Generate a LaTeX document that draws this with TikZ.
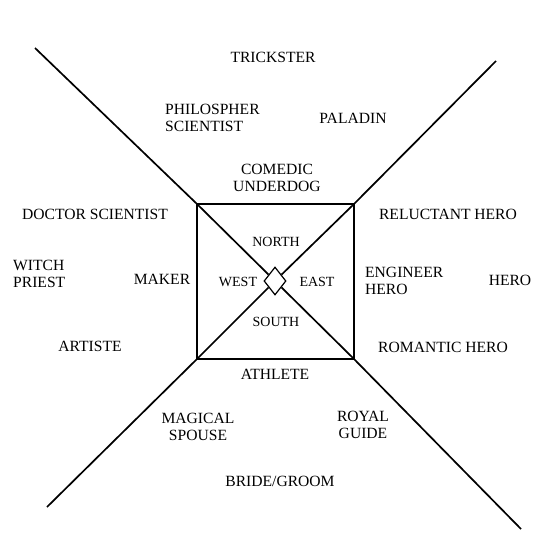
\documentclass[tikz,border=0pt]{standalone}
\usepackage{fontspec}
\setmainfont{Liberation Serif}
\usetikzlibrary{shapes.geometric}
\begin{document}
\begin{tikzpicture}[x=1pt,y=-1pt,
  lbl/.style={font=\fontsize{15.6}{17}\selectfont, inner sep=0pt, align=center},
  lbll/.style={lbl, align=left},
  inlbl/.style={font=\fontsize{14}{16}\selectfont, inner sep=0pt},
  diag/.style={line width=1.7pt},
  sq/.style={line width=1.3pt}]
\useasboundingbox (0,0) rectangle (560,560);
% square
\coordinate (nw) at (197,204);
\coordinate (ne) at (354,204);
\coordinate (se) at (354,359);
\coordinate (sw) at (197,359);
\draw[sq] (nw) -- (ne) -- (se) -- (sw) -- cycle;
% outer ends
\coordinate (tl) at (35,48);
\coordinate (tr) at (496,61);
\coordinate (bl) at (47,507);
\coordinate (br) at (521,529);
\node[diamond, draw, fill=white, line width=1.2pt, inner sep=0pt,
      minimum width=22pt, minimum height=28pt] (dia) at (275,281) {};
\draw[diag] (tl) -- (nw) -- (dia);
\draw[diag] (tr) -- (ne) -- (dia);
\draw[diag] (bl) -- (sw) -- (dia);
\draw[diag] (br) -- (se) -- (dia);
% inner labels
\node[inlbl] (north) at (276,242) {NORTH};
\node[inlbl] (south) at (276,322) {SOUTH};
\node[inlbl] (west) at (238,282) {WEST};
\node[inlbl] (east) at (317,282) {EAST};
% outer labels
\node[lbl] (trickster) at (273,57) {TRICKSTER};
\node[lbll, anchor=west] (philo) at (165,118) {PHILOSPHER\\SCIENTIST};
\node[lbl] (paladin) at (353,118) {PALADIN};
\node[lbl] (comedic) at (277,178) {COMEDIC\\UNDERDOG};
\node[lbl] (doctor) at (95,214) {DOCTOR SCIENTIST};
\node[lbl] (reluctant) at (448,214) {RELUCTANT HERO};
\node[lbll, anchor=west] (witch) at (13,274) {WITCH\\PRIEST};
\node[lbl] (maker) at (162,279) {MAKER};
\node[lbll, anchor=west] (engineer) at (365,281) {ENGINEER\\HERO};
\node[lbl] (hero) at (510,280) {HERO};
\node[lbl] (artiste) at (90,346) {ARTISTE};
\node[lbl] (romantic) at (443,347) {ROMANTIC HERO};
\node[lbl] (athlete) at (275,374) {ATHLETE};
\node[lbl] (magical) at (198,427) {MAGICAL\\SPOUSE};
\node[lbl] (royal) at (363,425) {ROYAL\\GUIDE};
\node[lbl] (bride) at (280,481) {BRIDE/GROOM};
\end{tikzpicture}
\end{document}
